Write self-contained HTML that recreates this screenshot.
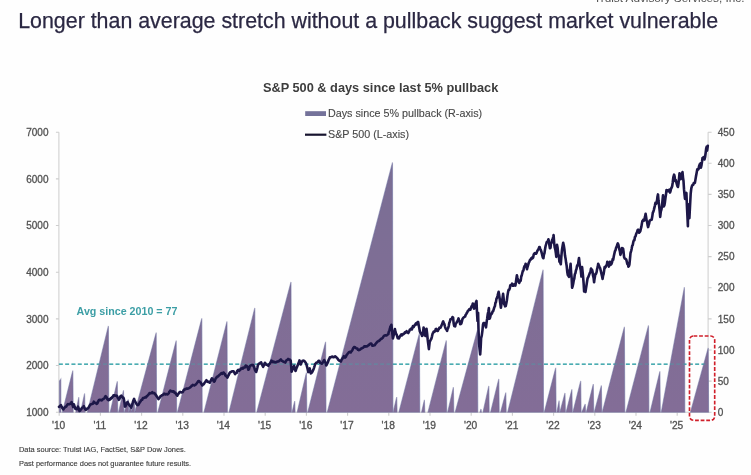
<!DOCTYPE html>
<html><head><meta charset="utf-8"><title>S&amp;P 500 &amp; days since last 5% pullback</title>
<style>
html,body{margin:0;padding:0;background:#fefefe;}
body{width:751px;height:475px;overflow:hidden;position:relative;font-family:"Liberation Sans",sans-serif;}
svg{position:absolute;left:0;top:0;filter:blur(0.62px);}
text{font-family:"Liberation Sans",sans-serif;}
.ttl{font-size:21.38px;fill:#2b2843;stroke:#2b2843;stroke-width:0.25px;}
.ct{font-size:12.78px;font-weight:bold;fill:#3d3d3d;}
.lg{font-size:10.76px;fill:#484848;stroke:#484848;stroke-width:0.12px;}
.al{font-size:10px;fill:#525252;stroke:#525252;stroke-width:0.3px;}
.xl{font-size:10.2px;fill:#525252;stroke:#525252;stroke-width:0.3px;}
.avg{font-size:10.68px;font-weight:bold;fill:#3c9ea5;}
.ft{font-size:7.45px;fill:#3a3a3a;stroke:#3a3a3a;stroke-width:0.12px;}
.tr{font-size:11.75px;fill:#505050;}
</style></head><body>
<svg width="751" height="475" viewBox="0 0 751 475">
<defs>
<linearGradient id="g" gradientUnits="userSpaceOnUse" x1="0" y1="160" x2="0" y2="412">
<stop offset="0" stop-color="#7a6e95"/><stop offset="0.5" stop-color="#7f6e95"/><stop offset="1" stop-color="#836d97"/>
</linearGradient>
</defs>
<rect x="0" y="0" width="751" height="475" fill="#fefefe"/>
<text x="594" y="1.6" class="tr">Truist Advisory Services, Inc.</text>
<text x="18.2" y="28" class="ttl">Longer than average stretch without a pullback suggest market vulnerable</text>
<text x="380.6" y="92.4" text-anchor="middle" class="ct">S&amp;P 500 &amp; days since last 5% pullback</text>
<rect x="305.2" y="111.2" width="20.8" height="4.8" fill="#74729a"/>
<text x="328" y="117.3" class="lg">Days since 5% pullback (R-axis)</text>
<path d="M305,134.7 H326.4" stroke="#17142f" stroke-width="2.2"/>
<text x="328" y="138.3" class="lg">S&amp;P 500 (L-axis)</text>
<path d="M58.9,132.2 V412.2" stroke="#cdcdcd" stroke-width="1.0" fill="none"/><path d="M708.1,132.2 V412.2" stroke="#cdcdcd" stroke-width="1.0" fill="none"/><path d="M58.9,412.2 H708.1" stroke="#cdcdcd" stroke-width="1.0" fill="none"/><path d="M55.9,412.2 H58.9 M55.9,365.5 H58.9 M55.9,318.9 H58.9 M55.9,272.2 H58.9 M55.9,225.5 H58.9 M55.9,178.9 H58.9 M55.9,132.2 H58.9 M708.1,412.2 H711.6 M708.1,381.1 H711.6 M708.1,350.0 H711.6 M708.1,318.9 H711.6 M708.1,287.8 H711.6 M708.1,256.6 H711.6 M708.1,225.5 H711.6 M708.1,194.4 H711.6 M708.1,163.3 H711.6 M708.1,132.2 H711.6 M59.2,412.2 V415.7 M100.4,412.2 V415.7 M141.6,412.2 V415.7 M182.8,412.2 V415.7 M224.0,412.2 V415.7 M265.2,412.2 V415.7 M306.4,412.2 V415.7 M347.6,412.2 V415.7 M388.8,412.2 V415.7 M430.0,412.2 V415.7 M471.2,412.2 V415.7 M512.4,412.2 V415.7 M553.6,412.2 V415.7 M594.8,412.2 V415.7 M636.0,412.2 V415.7 M677.2,412.2 V415.7 " stroke="#cdcdcd" stroke-width="1.1" fill="none"/>
<path d="M58.9,364.2 H707" stroke="#4fb0b4" stroke-width="1.4" stroke-dasharray="3.9 2.4" fill="none"/>
<path d="M59.5,412.2 L59.5,381.0 L60.8,379.2 L60.9,412.2 Z M62.4,412.2 L72.8,370.6 L73.2,412.2 Z M75.8,412.2 L78.8,397.2 L79.2,412.2 Z M80.6,412.2 L84.6,393.4 L85.0,412.2 Z M87.4,412.2 L108.4,325.9 L108.8,412.2 Z M110.2,412.2 L117.3,381.3 L117.7,412.2 Z M118.6,412.2 L123.5,390.3 L123.9,412.2 Z M124.3,412.2 L128.3,399.5 L128.7,412.2 Z M128.7,412.2 L131.2,403.0 L131.6,412.2 Z M131.4,412.2 L134.3,401.5 L134.7,412.2 Z M134.8,412.2 L156.2,332.6 L156.6,412.2 Z M157.9,412.2 L176.2,340.6 L176.6,412.2 Z M177.5,412.2 L201.8,318.3 L202.2,412.2 Z M204.0,412.2 L227.0,321.5 L227.4,412.2 Z M229.0,412.2 L254.8,307.9 L255.2,412.2 Z M256.8,412.2 L291.0,282.0 L291.4,412.2 Z M292.1,412.2 L294.7,401.0 L295.1,412.2 Z M297.2,412.2 L306.4,372.5 L306.8,412.2 Z M307.8,412.2 L325.6,341.8 L326.0,412.2 Z M327.3,412.2 L392.5,162.5 L392.9,412.2 Z M393.2,412.2 L396.7,397.0 L397.1,412.2 Z M398.9,412.2 L419.4,333.5 L419.8,412.2 Z M421.6,412.2 L424.4,399.8 L424.8,412.2 Z M428.0,412.2 L446.3,340.4 L446.7,412.2 Z M447.7,412.2 L453.4,387.2 L453.8,412.2 Z M455.2,412.2 L477.4,330.3 L477.8,412.2 Z M480.0,412.2 L481.0,409.0 L481.4,412.2 Z M483.0,412.2 L488.8,385.9 L489.2,412.2 Z M490.6,412.2 L498.8,379.0 L499.2,412.2 Z M500.6,412.2 L505.8,392.6 L506.2,412.2 Z M507.7,412.2 L543.1,269.7 L543.5,412.2 Z M544.3,412.2 L555.7,367.8 L556.1,412.2 Z M556.9,412.2 L559.1,400.6 L559.5,412.2 Z M559.9,412.2 L565.0,393.0 L565.4,412.2 Z M566.1,412.2 L571.9,389.3 L572.3,412.2 Z M572.9,412.2 L580.7,380.9 L581.1,412.2 Z M581.8,412.2 L585.2,404.0 L585.6,412.2 Z M586.3,412.2 L593.3,384.1 L593.7,412.2 Z M594.3,412.2 L601.4,385.5 L601.8,412.2 Z M602.3,412.2 L624.4,326.8 L624.8,412.2 Z M626.0,412.2 L648.5,325.5 L648.9,412.2 Z M650.1,412.2 L659.9,371.3 L660.3,412.2 Z M661.3,412.2 L684.4,287.2 L684.8,412.2 Z M690.5,412.2 L708.2,348.0 L708.6,412.2 Z " fill="url(#g)" stroke="#6a6b9c" stroke-opacity="0.55" stroke-width="1.1" stroke-linejoin="miter"/>
<path d="M58.9,364.2 H707" stroke="#43a6ad" stroke-width="1.7" stroke-dasharray="3.9 2.4" fill="none" opacity="0.35"/>
<path d="M59.0,406.8 L59.5,406.5 L60.0,405.9 L60.5,405.5 L61.0,405.2 L61.6,406.7 L62.2,407.9 L62.7,408.6 L63.3,409.5 L63.9,408.6 L64.4,407.9 L65.0,407.2 L65.6,406.6 L66.2,406.6 L66.7,405.7 L67.3,404.9 L67.9,404.1 L68.5,404.2 L69.0,404.3 L69.6,404.2 L70.1,403.9 L70.6,403.3 L71.1,402.8 L71.6,402.1 L72.2,404.0 L72.7,405.6 L73.2,407.0 L73.8,404.2 L74.3,405.5 L74.8,407.3 L75.3,408.7 L75.8,409.0 L76.3,409.2 L76.8,409.3 L77.4,408.2 L78.0,406.7 L78.5,408.0 L79.0,409.5 L79.5,411.1 L80.1,410.7 L80.6,409.6 L81.1,409.2 L81.7,408.4 L82.2,407.6 L82.7,407.4 L83.3,407.1 L83.8,406.2 L84.5,408.0 L85.1,409.0 L85.8,410.0 L86.3,409.7 L86.9,409.0 L87.4,408.4 L88.0,408.4 L88.6,407.5 L89.1,406.6 L89.7,405.6 L90.2,404.8 L90.8,404.3 L91.3,404.0 L91.9,404.2 L92.4,403.7 L93.0,403.7 L93.8,401.7 L94.3,402.3 L94.9,402.9 L95.5,403.2 L96.0,402.8 L96.6,403.8 L97.2,403.5 L97.8,402.6 L98.3,401.1 L98.9,400.0 L99.5,399.9 L100.1,400.2 L100.7,399.8 L101.3,400.0 L101.8,400.3 L102.4,399.7 L103.0,399.1 L103.6,398.9 L104.1,398.4 L104.6,397.9 L105.1,396.8 L105.6,396.2 L106.2,396.9 L106.8,397.6 L107.4,399.4 L108.0,399.7 L108.6,400.2 L109.1,399.3 L109.7,399.6 L110.2,399.3 L110.8,398.2 L111.3,398.5 L111.9,397.9 L112.4,396.7 L113.0,396.7 L113.5,395.2 L114.0,395.2 L114.6,395.6 L115.1,395.7 L115.6,395.6 L116.1,395.8 L116.6,395.5 L117.1,396.1 L117.7,397.7 L118.3,398.5 L118.8,399.8 L119.3,399.4 L119.8,398.1 L120.3,396.5 L120.8,395.9 L121.3,395.7 L121.8,396.4 L122.3,397.0 L122.8,397.7 L123.3,397.5 L123.8,398.6 L124.4,402.2 L124.9,406.6 L125.4,406.3 L126.0,405.3 L126.5,404.0 L127.0,402.9 L127.5,402.0 L128.0,402.9 L128.5,403.7 L129.0,404.4 L129.5,405.4 L130.0,406.1 L130.6,406.7 L131.2,407.6 L131.8,405.9 L132.4,404.3 L132.9,401.9 L133.5,400.2 L134.1,398.9 L134.6,400.3 L135.1,401.5 L135.6,402.2 L136.2,403.5 L136.7,404.5 L137.2,404.8 L137.8,405.1 L138.4,404.8 L138.9,403.9 L139.5,402.9 L140.0,402.0 L140.6,401.3 L141.2,400.2 L141.7,399.8 L142.2,399.8 L142.7,398.4 L143.2,397.9 L143.7,398.0 L144.3,397.8 L144.8,397.6 L145.3,397.0 L145.9,397.4 L146.4,397.0 L147.0,395.9 L147.5,395.7 L148.0,395.1 L148.6,394.5 L149.1,393.9 L149.6,393.0 L150.2,393.4 L150.7,393.3 L151.2,393.2 L151.8,392.6 L152.3,392.2 L152.8,393.2 L153.3,392.8 L153.9,393.3 L154.4,393.1 L154.9,393.6 L155.4,394.5 L155.9,395.0 L156.5,396.0 L157.0,396.8 L157.5,397.5 L158.0,398.3 L158.5,399.2 L159.0,398.3 L159.6,397.6 L160.1,397.3 L160.6,396.0 L161.1,396.0 L161.7,395.3 L162.2,395.2 L162.7,395.0 L163.2,394.5 L163.7,394.2 L164.2,393.7 L164.7,394.1 L165.3,394.5 L165.8,394.0 L166.4,394.1 L167.0,394.2 L167.6,394.5 L168.2,393.8 L168.8,393.2 L169.3,391.8 L169.8,391.3 L170.3,390.5 L170.9,391.3 L171.4,391.3 L171.9,391.0 L172.4,391.7 L173.0,391.4 L173.5,391.3 L174.0,391.7 L174.6,392.8 L175.1,392.6 L175.6,393.0 L176.2,394.2 L176.7,395.0 L177.3,395.7 L177.9,394.4 L178.4,394.0 L179.0,392.8 L179.6,392.3 L180.2,391.9 L180.7,392.1 L181.3,392.5 L181.9,392.2 L182.5,392.3 L183.1,391.5 L183.7,390.1 L184.2,389.5 L184.8,389.6 L185.4,389.0 L186.0,389.0 L186.5,388.6 L187.0,388.5 L187.6,388.6 L188.1,388.6 L188.6,388.2 L189.1,388.2 L189.7,387.6 L190.2,387.5 L190.7,386.9 L191.3,386.3 L191.8,385.5 L192.3,385.6 L192.8,384.9 L193.4,385.2 L193.9,385.2 L194.4,385.5 L195.0,384.7 L195.5,384.7 L196.0,384.3 L196.6,383.5 L197.2,382.6 L197.8,382.0 L198.4,381.0 L199.0,381.0 L199.5,381.7 L200.0,382.2 L200.6,382.5 L201.1,383.3 L201.7,384.5 L202.2,385.5 L202.8,384.5 L203.3,384.6 L203.8,384.2 L204.3,383.3 L204.9,382.4 L205.4,381.8 L205.9,380.9 L206.4,380.2 L207.0,380.8 L207.5,381.6 L208.1,382.0 L208.7,381.8 L209.2,382.2 L209.8,382.7 L210.3,381.5 L210.9,380.7 L211.4,379.3 L211.9,378.3 L212.5,378.8 L213.1,380.3 L213.6,380.8 L214.2,381.6 L214.7,381.1 L215.2,379.5 L215.8,378.3 L216.3,377.9 L216.8,376.9 L217.3,376.5 L217.9,376.5 L218.4,376.0 L219.0,375.4 L219.5,374.9 L220.1,374.6 L220.6,373.9 L221.1,373.4 L221.6,373.1 L222.1,373.9 L222.7,373.4 L223.2,372.6 L223.7,372.6 L224.2,373.7 L224.8,373.7 L225.3,375.4 L225.9,376.0 L226.4,375.8 L227.0,377.0 L227.5,377.6 L228.1,375.9 L228.7,375.1 L229.2,373.9 L229.8,372.6 L230.3,372.1 L230.9,372.0 L231.5,371.8 L232.1,371.3 L232.7,371.2 L233.3,371.2 L233.8,371.5 L234.5,373.1 L235.1,374.1 L235.6,373.4 L236.2,373.1 L236.7,372.8 L237.2,370.9 L237.8,370.3 L238.4,369.8 L238.9,370.9 L239.5,370.4 L240.1,370.0 L240.6,369.1 L241.2,368.6 L241.8,368.4 L242.4,367.9 L243.0,368.6 L243.5,367.8 L244.1,367.4 L244.7,367.5 L245.2,366.6 L245.7,365.5 L246.3,366.0 L246.8,366.1 L247.4,367.2 L247.9,368.3 L248.4,369.7 L248.9,369.3 L249.4,367.4 L249.9,366.0 L250.4,365.7 L250.9,365.4 L251.5,365.1 L252.0,365.2 L252.6,364.9 L253.1,365.0 L253.7,366.4 L254.2,367.2 L254.7,369.2 L255.2,370.4 L255.7,371.3 L256.2,372.0 L256.8,369.9 L257.4,367.5 L258.0,364.7 L258.5,364.3 L259.1,363.7 L259.6,363.4 L260.1,363.3 L260.6,362.6 L261.2,362.4 L261.7,363.7 L262.2,364.9 L262.7,365.8 L263.2,366.8 L263.8,365.5 L264.3,364.2 L264.9,362.8 L265.5,363.4 L266.0,364.5 L266.6,364.8 L267.1,364.8 L267.7,365.2 L268.3,365.8 L268.8,364.6 L269.3,364.0 L269.9,363.6 L270.4,362.6 L270.9,361.9 L271.4,360.6 L271.9,361.0 L272.5,361.9 L273.0,362.2 L273.5,361.6 L274.0,361.7 L274.5,362.1 L275.0,362.4 L275.6,362.2 L276.2,362.1 L276.7,362.1 L277.3,361.6 L277.9,361.4 L278.4,361.5 L279.0,361.2 L279.6,360.4 L280.2,359.9 L280.8,359.4 L281.4,360.3 L281.9,360.8 L282.5,361.0 L283.1,361.6 L283.6,361.7 L284.2,361.9 L284.8,362.1 L285.3,362.6 L285.9,361.2 L286.4,360.4 L287.0,360.0 L287.6,359.6 L288.1,359.0 L288.6,359.5 L289.2,359.6 L289.7,359.6 L290.2,360.0 L290.7,360.8 L291.2,366.4 L291.6,371.7 L292.1,370.4 L292.6,369.2 L293.1,368.2 L293.6,366.9 L294.1,365.8 L294.8,368.4 L295.5,371.0 L296.0,369.7 L296.5,368.1 L297.0,367.0 L297.5,365.7 L298.1,364.2 L298.6,363.2 L299.1,361.8 L299.5,360.4 L300.1,362.7 L300.7,364.5 L301.2,363.2 L301.7,362.2 L302.2,361.3 L302.7,360.7 L303.3,360.6 L303.8,360.9 L304.4,361.0 L305.0,361.8 L305.5,362.3 L306.1,363.5 L306.7,365.4 L307.2,367.3 L307.8,370.0 L308.3,372.1 L309.0,369.6 L309.7,368.4 L310.3,371.2 L310.8,373.5 L311.4,372.8 L311.9,372.6 L312.5,371.5 L313.0,370.4 L313.6,369.0 L314.1,367.6 L314.7,365.7 L315.2,363.9 L315.8,363.6 L316.3,362.7 L316.9,362.5 L317.5,362.4 L318.0,361.6 L318.6,360.8 L319.1,360.7 L319.7,361.8 L320.2,362.8 L320.8,363.0 L321.3,363.3 L321.8,363.7 L322.4,362.8 L323.0,362.4 L323.5,361.1 L324.1,360.0 L324.6,360.9 L325.2,362.2 L325.7,363.1 L326.2,365.5 L326.8,364.6 L327.3,363.2 L327.8,362.6 L328.3,361.0 L328.8,359.5 L329.3,358.8 L329.8,357.4 L330.5,357.5 L331.1,357.1 L331.8,356.7 L332.3,356.6 L332.9,357.1 L333.5,357.1 L334.1,357.1 L334.6,356.6 L335.2,356.4 L335.8,356.8 L336.4,357.5 L336.9,357.7 L337.5,358.5 L338.1,359.5 L338.6,360.0 L339.2,360.6 L339.7,360.9 L340.3,361.0 L340.9,361.6 L341.5,359.7 L342.0,359.3 L342.6,358.1 L343.2,357.5 L343.8,356.2 L344.4,357.4 L344.9,357.6 L345.5,357.2 L346.0,356.6 L346.6,354.9 L347.2,354.4 L347.7,353.6 L348.2,353.1 L348.7,352.4 L349.2,352.1 L349.8,352.2 L350.3,351.8 L350.8,352.5 L351.3,351.3 L351.9,350.9 L352.4,350.1 L353.0,348.5 L353.5,347.8 L354.1,347.1 L354.6,347.0 L355.2,347.4 L355.8,348.0 L356.3,348.3 L356.9,348.5 L357.4,348.6 L357.9,349.7 L358.4,349.9 L358.9,350.2 L359.5,349.9 L360.0,349.5 L360.5,349.3 L361.1,348.5 L361.6,348.4 L362.2,347.9 L362.7,347.8 L363.2,347.7 L363.8,347.1 L364.3,346.3 L364.9,346.3 L365.5,346.6 L366.0,346.4 L366.6,346.4 L367.2,346.3 L367.7,345.8 L368.3,345.2 L368.9,345.2 L369.5,344.2 L370.1,344.0 L370.6,343.5 L371.2,343.6 L371.7,344.3 L372.2,345.6 L372.7,345.5 L373.2,345.7 L373.8,345.4 L374.3,345.3 L374.8,345.2 L375.4,344.1 L375.9,343.5 L376.4,342.9 L376.9,342.3 L377.5,341.6 L378.0,341.3 L378.5,340.8 L379.0,340.9 L379.5,340.5 L380.1,339.9 L380.6,339.2 L381.1,338.8 L381.6,338.7 L382.2,338.2 L382.7,337.9 L383.3,336.8 L383.9,336.0 L384.4,335.6 L385.0,335.3 L385.5,335.3 L386.1,335.5 L386.6,335.4 L387.2,335.0 L387.7,334.6 L388.3,334.1 L388.8,331.8 L389.3,330.7 L389.8,329.3 L390.4,326.6 L390.9,326.0 L391.4,324.8 L391.9,329.6 L392.4,334.2 L392.9,338.4 L393.4,336.6 L393.9,334.2 L394.4,332.0 L394.9,329.1 L395.5,331.9 L396.0,333.6 L396.6,334.5 L397.2,336.3 L397.7,338.1 L398.3,337.7 L398.9,338.4 L399.4,337.4 L399.9,336.3 L400.5,335.6 L401.0,334.7 L401.5,334.4 L402.0,335.3 L402.6,334.8 L403.2,333.9 L403.8,333.9 L404.4,333.5 L404.9,332.3 L405.5,332.6 L406.1,332.5 L406.6,331.2 L407.2,332.1 L407.7,332.4 L408.3,333.0 L408.8,332.0 L409.3,331.1 L409.8,329.6 L410.4,329.6 L410.9,329.0 L411.4,328.4 L411.9,329.5 L412.4,327.5 L413.0,326.0 L413.6,327.2 L414.2,325.9 L414.7,325.4 L415.3,324.4 L415.9,323.4 L416.5,324.4 L417.0,324.1 L417.6,322.0 L418.2,322.1 L418.7,325.1 L419.3,328.3 L419.8,331.3 L420.4,332.8 L420.9,333.0 L421.5,334.4 L422.0,335.9 L422.6,335.6 L423.1,331.6 L423.6,327.5 L424.2,329.9 L424.8,332.3 L425.4,336.0 L426.0,333.1 L426.5,328.7 L427.1,333.5 L427.7,339.5 L428.3,344.3 L428.9,349.2 L429.7,341.9 L430.3,340.7 L430.9,339.5 L431.4,338.6 L432.0,336.3 L432.6,333.7 L433.2,332.7 L433.7,331.7 L434.2,331.9 L434.8,331.5 L435.3,330.6 L435.8,329.0 L436.3,328.9 L436.8,330.0 L437.2,330.9 L437.8,330.9 L438.3,329.7 L438.9,329.1 L439.4,327.6 L440.0,327.3 L440.5,327.7 L441.1,326.5 L441.6,325.1 L442.1,324.3 L442.7,322.4 L443.2,321.4 L443.8,323.1 L444.3,323.9 L444.9,326.3 L445.4,328.0 L446.0,329.1 L446.5,329.6 L447.1,330.8 L447.6,328.9 L448.2,327.8 L448.8,325.8 L449.3,322.8 L449.9,321.6 L450.4,319.2 L450.9,319.3 L451.5,318.9 L452.0,318.3 L452.5,317.0 L453.1,317.7 L453.6,323.0 L454.2,326.1 L454.7,326.1 L455.2,326.3 L455.7,323.7 L456.3,323.0 L456.8,322.3 L457.4,321.1 L457.9,320.3 L458.5,318.4 L459.0,320.0 L459.6,320.9 L460.2,324.2 L460.7,324.1 L461.3,323.5 L461.8,321.9 L462.4,319.2 L462.9,318.3 L463.5,317.6 L464.0,317.1 L464.5,316.9 L465.1,316.5 L465.6,315.0 L466.2,314.1 L466.7,313.1 L467.3,312.3 L467.8,311.1 L468.3,310.4 L468.8,310.2 L469.3,309.2 L469.9,309.0 L470.4,309.7 L470.9,308.1 L471.5,306.3 L472.2,305.8 L472.8,303.5 L473.3,304.8 L473.9,308.6 L474.4,308.3 L474.9,306.5 L475.4,303.9 L476.0,302.2 L476.5,300.9 L477.0,312.8 L477.5,321.0 L478.1,312.8 L478.5,329.2 L479.0,343.1 L479.6,349.2 L480.2,354.5 L480.7,346.8 L481.1,338.2 L481.8,335.4 L482.4,330.8 L483.0,324.7 L483.5,323.0 L484.0,323.1 L484.5,323.0 L485.0,323.4 L485.5,325.9 L486.0,327.3 L486.6,322.3 L487.1,319.0 L487.7,314.3 L488.3,311.8 L488.9,308.0 L489.2,318.8 L489.8,318.4 L490.3,316.8 L490.8,313.7 L491.4,314.2 L492.0,313.5 L492.5,311.5 L493.1,311.4 L493.7,309.4 L494.3,307.3 L494.9,306.2 L495.4,302.9 L495.9,302.3 L496.5,298.6 L497.0,297.9 L497.5,296.1 L498.0,294.0 L498.6,291.8 L499.2,295.1 L499.8,299.5 L500.4,304.3 L500.9,307.8 L501.5,303.5 L502.0,301.0 L502.5,298.1 L503.1,293.9 L503.6,298.0 L504.1,303.9 L504.6,304.9 L505.1,306.3 L505.7,306.1 L506.3,303.5 L506.9,300.2 L507.4,296.1 L508.0,292.4 L508.6,289.8 L509.2,289.8 L509.8,288.2 L510.3,285.2 L510.9,285.2 L511.5,285.1 L512.1,283.6 L512.6,285.8 L513.2,285.6 L513.7,285.6 L514.3,284.4 L514.8,284.9 L515.4,285.5 L515.9,282.2 L516.4,278.4 L516.9,275.2 L517.5,278.1 L518.1,280.2 L518.6,281.9 L519.2,283.0 L519.7,281.8 L520.2,280.3 L520.7,280.7 L521.2,276.8 L521.7,275.5 L522.2,273.5 L522.8,271.0 L523.4,270.5 L523.9,268.0 L524.5,266.1 L525.1,266.1 L525.6,263.8 L526.3,264.9 L527.0,269.3 L527.6,266.8 L528.2,264.9 L528.8,262.7 L529.3,261.9 L529.9,260.1 L530.4,260.0 L530.9,258.7 L531.5,258.9 L532.0,257.7 L532.5,258.3 L533.1,257.7 L533.6,254.9 L534.2,253.7 L534.8,253.1 L535.3,253.6 L535.9,253.8 L536.5,253.1 L537.0,251.6 L537.5,250.6 L538.1,249.6 L538.6,249.2 L539.2,247.1 L539.7,247.1 L540.3,249.4 L540.8,249.9 L541.3,251.4 L541.8,253.3 L542.3,255.5 L542.8,257.4 L543.4,258.2 L543.9,254.7 L544.5,253.0 L545.0,249.4 L545.6,246.0 L546.2,244.0 L546.7,242.2 L547.3,241.6 L547.9,241.2 L548.4,239.3 L548.9,241.2 L549.4,245.4 L549.9,248.3 L550.5,247.8 L551.0,243.6 L551.6,242.7 L552.2,239.7 L552.7,239.0 L553.3,236.5 L553.6,235.0 L554.2,243.3 L554.7,247.3 L555.3,249.4 L555.8,252.7 L556.3,256.9 L557.0,244.7 L557.6,247.8 L558.2,254.0 L558.8,255.5 L559.4,261.7 L559.9,260.9 L560.4,263.2 L560.8,264.2 L561.4,256.0 L562.0,249.6 L562.6,245.9 L563.2,242.7 L563.8,245.5 L564.4,249.1 L565.0,255.5 L565.6,258.7 L566.1,262.6 L566.7,266.0 L567.3,272.2 L567.8,275.0 L568.4,275.8 L569.0,276.8 L569.5,270.3 L570.0,269.4 L570.6,263.9 L571.1,272.6 L571.6,277.5 L572.1,287.7 L572.7,286.0 L573.2,283.8 L573.8,280.1 L574.3,278.5 L574.8,274.3 L575.4,273.2 L575.9,270.4 L576.5,268.9 L577.0,266.1 L577.5,264.9 L578.0,265.3 L578.5,261.0 L579.0,258.0 L579.6,263.6 L580.2,267.8 L580.8,270.5 L581.4,276.5 L582.1,267.1 L582.6,272.0 L583.1,276.9 L583.6,282.9 L584.1,291.5 L584.8,291.0 L585.5,291.9 L586.0,288.4 L586.5,285.3 L587.1,281.2 L587.6,278.2 L588.2,277.3 L588.7,276.0 L589.3,274.4 L589.9,272.8 L590.4,272.2 L591.0,268.5 L591.5,270.7 L592.0,269.6 L592.5,271.3 L593.0,275.5 L593.6,278.0 L594.1,282.3 L594.4,279.7 L594.9,276.8 L595.5,273.8 L596.0,273.9 L596.6,272.1 L597.1,269.0 L597.7,266.9 L598.2,263.8 L598.8,265.2 L599.3,266.5 L599.9,267.7 L600.4,269.2 L601.0,271.7 L601.5,273.9 L602.1,276.4 L602.6,278.9 L603.1,275.6 L603.6,274.0 L604.1,270.8 L604.6,267.1 L605.2,267.6 L605.7,266.9 L606.2,265.6 L606.8,265.1 L607.3,261.8 L607.8,264.3 L608.3,264.5 L608.9,266.6 L609.4,265.3 L609.9,261.8 L610.5,264.8 L611.0,264.6 L611.5,263.8 L612.1,262.0 L612.7,259.1 L613.2,259.7 L613.8,256.3 L614.4,253.5 L614.9,251.2 L615.5,250.3 L616.1,247.7 L616.7,246.6 L617.3,244.5 L617.8,243.4 L618.4,244.7 L618.9,247.4 L619.4,249.7 L619.9,251.3 L620.4,254.9 L621.0,253.0 L621.5,250.3 L622.0,248.1 L622.6,248.9 L623.1,248.7 L623.6,252.3 L624.1,257.2 L624.7,258.4 L625.2,258.8 L625.7,259.0 L626.2,259.4 L626.8,261.6 L627.3,263.9 L627.8,264.2 L628.4,266.7 L628.9,266.2 L629.4,264.6 L630.0,258.6 L630.5,253.2 L631.1,251.1 L631.6,249.1 L632.2,245.7 L632.7,245.2 L633.3,241.9 L633.8,240.4 L634.4,240.4 L634.9,237.0 L635.5,236.3 L636.0,234.5 L636.5,233.1 L637.1,232.1 L637.6,230.2 L638.1,229.7 L638.6,231.0 L639.2,232.7 L639.7,232.2 L640.3,231.1 L640.8,228.9 L641.4,226.6 L641.9,223.5 L642.4,221.1 L643.0,220.3 L643.5,219.5 L644.0,220.6 L644.5,219.0 L645.1,216.4 L645.6,213.7 L646.1,217.0 L646.6,220.4 L647.1,222.1 L647.6,225.1 L648.1,227.1 L648.6,225.1 L649.1,223.7 L649.6,220.7 L650.2,220.4 L650.7,219.7 L651.2,219.7 L651.7,219.7 L652.3,216.3 L652.8,212.6 L653.3,211.8 L653.8,210.1 L654.4,207.6 L654.9,205.6 L655.4,202.9 L655.9,204.1 L656.5,203.2 L657.0,200.6 L657.5,196.5 L658.0,194.4 L658.5,200.5 L659.1,205.6 L659.7,211.2 L660.2,216.9 L660.8,211.7 L661.4,209.7 L661.9,206.6 L662.5,200.3 L663.0,195.3 L663.8,206.5 L664.4,205.2 L664.9,202.4 L665.5,197.6 L666.0,194.3 L666.5,190.0 L667.1,190.5 L667.7,190.3 L668.3,191.2 L668.9,191.2 L669.4,189.7 L670.0,192.6 L670.6,190.8 L671.1,188.5 L671.7,187.5 L672.2,186.0 L672.7,182.7 L673.3,177.4 L674.1,174.7 L674.6,176.3 L675.2,181.1 L675.8,180.1 L676.3,182.2 L676.9,184.4 L677.5,186.5 L678.0,186.9 L678.5,183.5 L679.0,178.7 L679.5,173.3 L680.1,176.4 L680.7,179.1 L681.3,177.8 L681.9,173.8 L682.5,172.1 L683.0,177.6 L683.5,181.0 L684.0,189.2 L684.5,194.5 L685.0,198.9 L685.7,195.1 L686.4,192.9 L686.9,205.4 L687.4,215.7 L687.9,226.3 L688.1,204.2 L688.7,211.2 L689.4,218.2 L690.0,206.5 L690.7,193.5 L691.3,188.4 L692.0,185.9 L692.6,184.8 L693.2,184.8 L693.8,183.0 L694.3,183.3 L694.9,182.8 L695.4,179.9 L696.0,176.3 L696.7,172.6 L697.3,169.3 L697.9,169.6 L698.5,169.2 L699.1,166.1 L699.7,164.3 L700.2,163.9 L700.8,163.0 L700.9,167.8 L701.5,165.1 L702.0,161.9 L702.5,157.9 L703.0,157.8 L703.6,157.0 L704.1,157.4 L704.5,159.5 L705.1,157.0 L705.7,152.5 L706.2,148.4 L706.8,146.5 L707.1,150.6 L707.8,145.7" stroke="#1d1748" stroke-width="2.6" stroke-linejoin="round" stroke-linecap="round" fill="none"/>
<rect x="689.5" y="336" width="25.2" height="84.3" rx="4" ry="4" fill="none" stroke="#d01f2a" stroke-width="1.65" stroke-dasharray="3.8 1.8"/>
<text x="48.5" y="415.8" text-anchor="end" class="al">1000</text><text x="48.5" y="369.1" text-anchor="end" class="al">2000</text><text x="48.5" y="322.5" text-anchor="end" class="al">3000</text><text x="48.5" y="275.8" text-anchor="end" class="al">4000</text><text x="48.5" y="229.1" text-anchor="end" class="al">5000</text><text x="48.5" y="182.5" text-anchor="end" class="al">6000</text><text x="48.5" y="135.8" text-anchor="end" class="al">7000</text><text x="717.8" y="415.8" class="al">0</text><text x="717.8" y="384.7" class="al">50</text><text x="717.8" y="353.6" class="al">100</text><text x="717.8" y="322.5" class="al">150</text><text x="717.8" y="291.4" class="al">200</text><text x="717.8" y="260.2" class="al">250</text><text x="717.8" y="229.1" class="al">300</text><text x="717.8" y="198.0" class="al">350</text><text x="717.8" y="166.9" class="al">400</text><text x="717.8" y="135.8" class="al">450</text><text x="58.6" y="428.6" text-anchor="middle" class="xl">&#39;10</text><text x="99.8" y="428.6" text-anchor="middle" class="xl">&#39;11</text><text x="141.0" y="428.6" text-anchor="middle" class="xl">&#39;12</text><text x="182.2" y="428.6" text-anchor="middle" class="xl">&#39;13</text><text x="223.4" y="428.6" text-anchor="middle" class="xl">&#39;14</text><text x="264.6" y="428.6" text-anchor="middle" class="xl">&#39;15</text><text x="305.8" y="428.6" text-anchor="middle" class="xl">&#39;16</text><text x="347.0" y="428.6" text-anchor="middle" class="xl">&#39;17</text><text x="388.2" y="428.6" text-anchor="middle" class="xl">&#39;18</text><text x="429.4" y="428.6" text-anchor="middle" class="xl">&#39;19</text><text x="470.6" y="428.6" text-anchor="middle" class="xl">&#39;20</text><text x="511.8" y="428.6" text-anchor="middle" class="xl">&#39;21</text><text x="553.0" y="428.6" text-anchor="middle" class="xl">&#39;22</text><text x="594.2" y="428.6" text-anchor="middle" class="xl">&#39;23</text><text x="635.4" y="428.6" text-anchor="middle" class="xl">&#39;24</text><text x="676.6" y="428.6" text-anchor="middle" class="xl">&#39;25</text>
<text x="76.6" y="315" class="avg">Avg since 2010 = 77</text>
<text x="19" y="452.1" class="ft">Data source: Truist IAG, FactSet, S&amp;P Dow Jones.</text>
<text x="19" y="465.8" class="ft">Past performance does not guarantee future results.</text>
</svg>
</body></html>
